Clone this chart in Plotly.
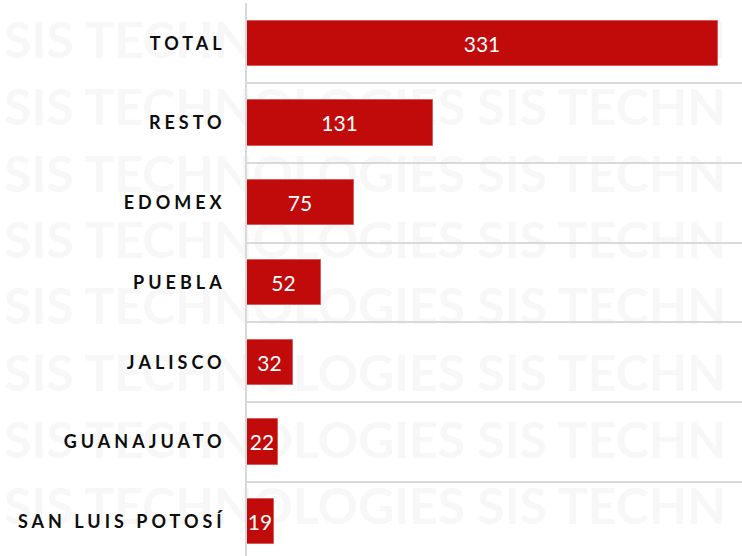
import plotly.graph_objects as go

categories = ["TOTAL", "RESTO", "EDOMEX", "PUEBLA", "JALISCO", "GUANAJUATO", "SAN LUIS POTOSÍ"]
values = [331, 131, 75, 52, 32, 22, 19]
watermark_text = "SIS TECHNOLOGIES SIS TECHN"
watermark_rows_px = [38, 105, 172, 238, 304, 371, 438, 504]

W, H = 742, 556
ML, MR, MT, MB = 247, 0, 3, 0
plot_w = W - ML - MR
plot_h = H - MT - MB

positions = list(range(len(categories)))
tick_text = ['<span style="letter-spacing:4px">%s</span>' % c for c in categories]

fig = go.Figure()
fig.add_trace(go.Bar(
    x=values,
    y=positions,
    orientation="h",
    width=0.565,
    marker=dict(color="#C10A0A", line=dict(color="#DA5A5A", width=1)),
    text=[str(v) for v in values],
    textposition="inside",
    insidetextanchor="middle",
    textangle=0,
    constraintext="none",
    textfont=dict(family="Lato, Open Sans, sans-serif", size=21, color="#ffffff"),
    hoverinfo="skip",
))

shapes = []
wm_x0 = (1 - ML) / plot_w
for ypx in watermark_rows_px:
    yp = (H - MB - ypx) / plot_h
    shapes.append(dict(
        type="rect", xref="paper", yref="paper",
        x0=wm_x0, x1=0.99, y0=yp - 0.02, y1=yp + 0.02,
        line=dict(width=0), fillcolor="rgba(0,0,0,0)", layer="below",
        label=dict(
            text=watermark_text,
            textposition="middle left",
            padding=0,
            font=dict(family="Lato, sans-serif", size=50, color="#f7f7f7", weight="bold"),
        ),
    ))

fig.update_layout(
    width=W, height=H,
    margin=dict(l=ML, r=MR, t=MT, b=MB, pad=0),
    paper_bgcolor="#ffffff",
    plot_bgcolor="rgba(0,0,0,0)",
    showlegend=False,
    shapes=shapes,
    bargap=0,
)
fig.update_xaxes(
    range=[0, 348],
    showgrid=False, zeroline=False, showticklabels=False, ticks="",
    showline=False, fixedrange=True,
)
fig.update_yaxes(
    range=[6.43, -0.505],
    tickmode="array", tickvals=positions, ticktext=tick_text,
    tickfont=dict(family="Lato, Open Sans, sans-serif", size=18, color="#0d0d0d", weight="bold"),
    ticks="", ticklabelstandoff=16,
    showgrid=False, zeroline=False,
    showline=True, linecolor="#d9d9d9", linewidth=1.5,
    minor=dict(
        tickmode="array",
        tickvals=[p - 0.5 for p in positions] + [positions[-1] + 0.5],
        showgrid=True, gridcolor="#d9d9d9", gridwidth=1.5, ticks="",
    ),
    fixedrange=True,
)

fig.write_html(
    "out.html",
    config={"displayModeBar": False},
    post_script="document.body.style.margin='0';document.body.style.overflow='hidden';",
)
